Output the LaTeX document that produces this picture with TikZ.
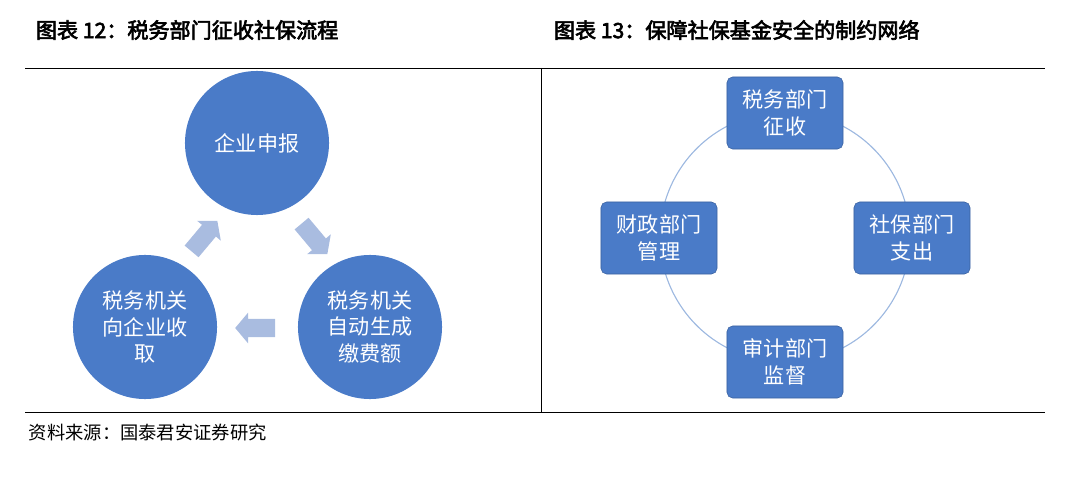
\documentclass[tikz,border=0pt]{standalone}
\usepackage{fontspec}
\setmainfont{Noto Sans CJK SC}
\newfontfamily\boldcjk[FakeBold=3]{Noto Sans CJK SC}
\usetikzlibrary{shapes.arrows}
\definecolor{circblue}{HTML}{4A7BC8}
\definecolor{pale}{HTML}{A9BCE0}
\definecolor{ringblue}{HTML}{9DB8E0}
\tikzset{
  stepcirc/.style={circle, fill=circblue, minimum size=3.6cm, inner sep=0pt, text=white, align=center, font=\fontsize{15}{19}\selectfont},
  flow/.style={single arrow, fill=pale, minimum height=1.0cm, inner xsep=0.1cm, inner ysep=0.22cm, single arrow head extend=0.16cm, single arrow tip angle=100},
  deptbox/.style={rounded corners=4pt, fill=circblue, draw=circblue!80!black, minimum width=2.9cm, minimum height=1.8cm, text=white, align=center, font=\fontsize{15}{19}\selectfont},
  headline/.style={anchor=west, font=\boldcjk\fontsize{15}{17}\selectfont}
}
\begin{document}
\begin{tikzpicture}[x=0.025cm,y=-0.025cm]
\useasboundingbox (0,0) rectangle (1080,492);

% titles and frame
\node[headline] (t1) at (31,30) {图表 12：税务部门征收社保流程};
\node[headline] (t2) at (549,30) {图表 13：保障社保基金安全的制约网络};
\draw[thin] (25,68) -- (1045,68);
\draw[thin] (25,412) -- (1045,412);
\draw[thin] (541,68) -- (541,412);
\node[anchor=west, font=\fontsize{13}{15}\selectfont] (src) at (24,433) {资料来源：国泰君安证券研究};

% left: process
\node[stepcirc] (apply) at (257,143) {企业申报};
\node[stepcirc] (calc) at (370,327) {税务机关\\自动生成\\缴费额};
\node[stepcirc] (collect) at (145,327) {税务机关\\向企业收\\取};
\node[flow, rotate=-50] (a1) at (312,236) {};
\node[flow, rotate=180] (a2) at (259,328) {};
\node[flow, rotate=50] (a3) at (202,239) {};

% right: network
\draw[ringblue, thick] (785,237) circle (125);
\node[deptbox] (tax) at (785,113) {税务部门\\征收};
\node[deptbox] (social) at (912,238) {社保部门\\支出};
\node[deptbox] (audit) at (785,362) {审计部门\\监督};
\node[deptbox] (finance) at (659,238) {财政部门\\管理};
\end{tikzpicture}
\end{document}
